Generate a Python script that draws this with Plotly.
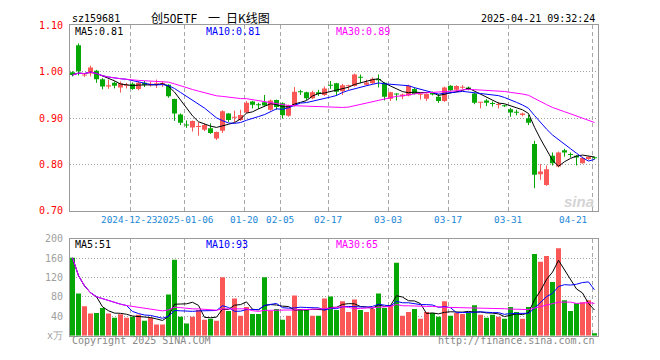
import plotly.graph_objects as go
import pandas as pd

# ---------------- data ----------------
dec_days = [9, 10, 11, 12, 13, 16, 17, 18, 19, 20, 23, 24, 25, 26, 27, 30, 31]
jan_days = [2, 3, 6, 7, 8, 9, 10, 13, 14, 15, 16, 17, 20, 21, 22, 23, 24, 27]
feb_days = [5, 6, 7, 10, 11, 12, 13, 14, 17, 18, 19, 20, 21, 24, 25, 26, 27, 28]
mar_days = [3, 4, 5, 6, 7, 10, 11, 12, 13, 14, 17, 18, 19, 20, 21, 24, 25, 26, 27, 28, 31]
apr_days = [1, 2, 3, 7, 8, 9, 10, 11, 14, 15, 16, 17, 18, 21]
dates = ([f"2024-12-{d:02d}" for d in dec_days] + [f"2025-01-{d:02d}" for d in jan_days]
         + [f"2025-02-{d:02d}" for d in feb_days] + [f"2025-03-{d:02d}" for d in mar_days]
         + [f"2025-04-{d:02d}" for d in apr_days])

opens = [0.999, 1.057, 0.992, 0.996, 1.002, 0.984, 0.968, 0.976, 0.966, 0.970,
         0.974, 0.963, 0.976, 0.971, 0.973, 0.972, 0.972, 0.941, 0.908, 0.886,
         0.880, 0.881, 0.875, 0.878, 0.856, 0.873, 0.910, 0.901, 0.896, 0.912,
         0.936, 0.930, 0.934, 0.918, 0.939, 0.932, 0.905, 0.927, 0.958, 0.956,
         0.943, 0.956, 0.950, 0.972, 0.975, 0.958, 0.969, 0.969, 0.989, 0.972,
         0.975, 0.984, 0.976, 0.942, 0.953, 0.947, 0.949, 0.963, 0.951, 0.942,
         0.955, 0.946, 0.937, 0.970, 0.961, 0.966, 0.966, 0.953, 0.933, 0.938,
         0.932, 0.929, 0.927, 0.919, 0.913, 0.907, 0.900, 0.844, 0.779, 0.756,
         0.819, 0.796, 0.831, 0.822, 0.819, 0.803, 0.812, 0.815]
highs = [1.001, 1.061, 0.997, 1.013, 1.004, 0.986, 0.983, 0.979, 0.979, 0.976,
         0.977, 0.979, 0.980, 0.979, 0.983, 0.979, 0.973, 0.942, 0.910, 0.895,
         0.895, 0.891, 0.888, 0.889, 0.871, 0.917, 0.911, 0.916, 0.918, 0.937,
         0.937, 0.933, 0.950, 0.940, 0.940, 0.934, 0.929, 0.967, 0.961, 0.957,
         0.959, 0.961, 0.968, 0.980, 0.976, 0.974, 0.972, 0.996, 0.994, 0.983,
         0.988, 0.994, 0.977, 0.957, 0.953, 0.953, 0.972, 0.966, 0.955, 0.953,
         0.957, 0.952, 0.968, 0.971, 0.971, 0.971, 0.968, 0.955, 0.935, 0.941,
         0.936, 0.935, 0.929, 0.922, 0.918, 0.912, 0.907, 0.851, 0.801, 0.798,
         0.826, 0.828, 0.834, 0.826, 0.820, 0.817, 0.818, 0.817]
lows = [0.990, 0.992, 0.989, 0.990, 0.976, 0.962, 0.963, 0.964, 0.955, 0.964,
        0.961, 0.960, 0.967, 0.968, 0.965, 0.967, 0.944, 0.894, 0.885, 0.879,
        0.871, 0.862, 0.872, 0.866, 0.853, 0.868, 0.892, 0.891, 0.894, 0.910,
        0.921, 0.920, 0.927, 0.916, 0.918, 0.899, 0.903, 0.925, 0.950, 0.939,
        0.941, 0.948, 0.948, 0.963, 0.948, 0.950, 0.961, 0.968, 0.976, 0.970,
        0.973, 0.966, 0.938, 0.937, 0.938, 0.941, 0.947, 0.951, 0.940, 0.937,
        0.949, 0.933, 0.935, 0.958, 0.958, 0.963, 0.960, 0.930, 0.921, 0.926,
        0.925, 0.921, 0.924, 0.903, 0.906, 0.904, 0.885, 0.749, 0.767, 0.754,
        0.798, 0.794, 0.817, 0.815, 0.798, 0.802, 0.810, 0.811]
closes = [0.993, 1.001, 0.994, 1.009, 0.984, 0.968, 0.971, 0.970, 0.975, 0.972,
          0.963, 0.976, 0.972, 0.974, 0.975, 0.975, 0.947, 0.910, 0.890, 0.884,
          0.894, 0.883, 0.885, 0.868, 0.870, 0.915, 0.896, 0.903, 0.907, 0.933,
          0.929, 0.928, 0.927, 0.938, 0.924, 0.906, 0.927, 0.957, 0.956, 0.943,
          0.956, 0.952, 0.964, 0.970, 0.957, 0.971, 0.971, 0.994, 0.987, 0.977,
          0.985, 0.982, 0.946, 0.956, 0.951, 0.951, 0.970, 0.952, 0.952, 0.952,
          0.951, 0.937, 0.966, 0.960, 0.969, 0.967, 0.961, 0.933, 0.935, 0.933,
          0.931, 0.930, 0.926, 0.912, 0.912, 0.910, 0.890, 0.778, 0.785, 0.790,
          0.803, 0.826, 0.826, 0.821, 0.815, 0.814, 0.817, 0.814]
volumes = [161, 87, 61, 46, 47, 57, 46, 37, 44, 37,
           39, 43, 31, 37, 23, 23, 85, 157, 39, 25,
           39, 53, 33, 35, 31, 121, 51, 77, 41, 59,
           45, 45, 121, 51, 55, 33, 41, 83, 55, 53,
           41, 41, 77, 81, 53, 71, 49, 75, 53, 49,
           55, 87, 57, 63, 151, 41, 49, 55, 35, 49,
           47, 39, 71, 41, 47, 45, 47, 63, 43, 37,
           43, 39, 35, 59, 49, 35, 59, 169, 153, 165,
           111, 181, 73, 51, 67, 69, 73, 5]

tick_dates = ["2024-12-23", "2025-01-06", "2025-01-20", "2025-02-05", "2025-02-17",
              "2025-03-03", "2025-03-17", "2025-03-31", "2025-04-21"]
tick_texts = ["2024-12-23", "2025-01-06", "01-20", "02-05", "02-17",
              "03-03", "03-17", "03-31", "04-21"]
price_ticks = [0.70, 0.80, 0.90, 1.00, 1.10]
vol_ticks = [0, 40, 80, 120, 160, 200]
vol_tick_texts = ["x万", "40", "80", "120", "160", "200"]
price_ma_labels = ["MA5:0.81", "MA10:0.81", "MA30:0.89"]
vol_ma_labels = ["MA5:51", "MA10:93", "MA30:65"]

# ---------------- styling ----------------
W, H = 660, 360
RED = "#fa5757"
GREEN = "#06a806"
MA_COLORS = ["#000000", "#0000ff", "#ff00ff"]
MONO = "DejaVu Sans Mono"
XOFF = -0.5 / 6          # candles sit slightly left inside their slot
BODY_W = 5 / 6


def px_x(p):
    return p / W


def px_y(p):
    return (H - p) / H


n = len(dates)
idx = list(range(n))
xpos = [i + XOFF for i in idx]
up = [c >= o for o, c in zip(opens, closes)]
colors = [RED if u else GREEN for u in up]

bases, heights = [], []
for o, c in zip(opens, closes):
    h = abs(c - o)
    if h < 0.0022:
        bases.append((o + c) / 2 - 0.0011)
        heights.append(0.0022)
    else:
        bases.append(min(o, c))
        heights.append(h)

fig = go.Figure()

# wicks
for col, flag in ((RED, True), (GREEN, False)):
    wx, wy = [], []
    for i in idx:
        if up[i] == flag:
            wx += [xpos[i], xpos[i], None]
            wy += [lows[i], highs[i], None]
    fig.add_trace(go.Scatter(x=wx, y=wy, mode="lines", line=dict(color=col, width=1),
                             hoverinfo="skip", showlegend=False, xaxis="x", yaxis="y"))

# bodies
fig.add_trace(go.Bar(x=xpos, y=heights, base=bases, width=BODY_W, marker_color=colors,
                     marker_line_width=0, showlegend=False, xaxis="x", yaxis="y"))

# price MAs
cs = pd.Series(closes)
for w, col in zip([5, 10, 30], MA_COLORS):
    fig.add_trace(go.Scatter(x=xpos, y=cs.rolling(w, min_periods=1).mean(), mode="lines",
                             line=dict(color=col, width=1), showlegend=False,
                             xaxis="x", yaxis="y"))

# volume bars
fig.add_trace(go.Bar(x=xpos, y=volumes, width=BODY_W, marker_color=colors,
                     marker_line_width=0, showlegend=False, xaxis="x2", yaxis="y2"))
vs = pd.Series(volumes, dtype=float)
for w, col in zip([5, 10, 30], MA_COLORS):
    fig.add_trace(go.Scatter(x=xpos, y=vs.rolling(w, min_periods=1).mean(), mode="lines",
                             line=dict(color=col, width=1), showlegend=False,
                             xaxis="x2", yaxis="y2"))

tick_idx = [dates.index(d) - 0.5 for d in tick_dates]
xdom = [px_x(70), px_x(598)]

xcommon = dict(domain=xdom, range=[-0.5, n - 0.5], tickvals=tick_idx, showticklabels=False,
               showgrid=True, gridcolor="#a8a8a8", gridwidth=1, griddash="4px,3px",
               showline=True, mirror=True, linecolor="#9a9a9a", linewidth=1,
               zeroline=False, ticks="", fixedrange=True)
ycommon = dict(showgrid=True, gridcolor="#a0a0a0", gridwidth=1, griddash="1px,2px",
               showline=True, mirror=True, linecolor="#9a9a9a", linewidth=1,
               zeroline=False, ticks="", fixedrange=True, ticklabelstandoff=4)

fig.update_layout(
    width=W, height=H,
    margin=dict(l=0, r=0, t=0, b=0, pad=0),
    paper_bgcolor="white", plot_bgcolor="white",
    barmode="overlay",
    showlegend=False,
    hovermode=False,
    xaxis=dict(anchor="y", **xcommon),
    xaxis2=dict(anchor="y2", matches="x", **xcommon),
    yaxis=dict(domain=[px_y(212), px_y(20)], range=[0.70, 1.10], tickvals=price_ticks,
               ticktext=[f"{v:.2f}" for v in price_ticks],
               tickfont=dict(family=MONO, size=10, color="#ff0000"), anchor="x", **ycommon),
    yaxis2=dict(domain=[px_y(341), px_y(241)], range=[0, 200], tickvals=vol_ticks,
                ticktext=vol_tick_texts,
                tickfont=dict(family=MONO, size=10, color="#a0a0a0"), anchor="x2", **ycommon),
)

ann = []


def txt(x, y, s, color="#000000", size=10, anchor="left", family=MONO, **kw):
    ann.append(dict(x=px_x(x), y=px_y(y), xref="paper", yref="paper", text=s,
                    showarrow=False, xanchor=anchor, yanchor="middle",
                    font=dict(family=family, size=size, color=color), **kw))


# header
txt(70, 13, "sz159681")
txt(210, 12, "创50ETF\u2002\u2009\u2009一\u2002日K线图", size=12, anchor="center",
    family="Noto Sans CJK SC")
txt(597, 13, "2025-04-21 09:32:24", anchor="right")

# MA labels
for lab, xx, col in zip(price_ma_labels, [73, 204, 334], MA_COLORS):
    txt(xx, 26.5, lab, color=col)
for lab, xx, col in zip(vol_ma_labels, [73, 204, 334], MA_COLORS):
    txt(xx, 246.5, lab, color=col)

# date labels
shifts = [-1.5, 1.5, 0, 0, 0, 0, 0, 0, 0]
for k, (tx, tt) in enumerate(zip(tick_idx, tick_texts)):
    last = k == len(tick_idx) - 1
    ann.append(dict(x=tx, y=px_y(221), xref="x", yref="paper", text=tt, showarrow=False,
                    xanchor="right" if last else "center", yanchor="middle",
                    xshift=-2 if last else shifts[k],
                    font=dict(family=MONO, size=9.4, color="#1a88d6")))

# footer
txt(70, 346, "Copyright 2025 SINA.COM", color="#888888")
txt(597, 346, "http://finance.sina.com.cn", anchor="right", color="#888888")

# watermark
txt(596, 202, "<b><i>sina</i></b>", color="#d4d4d4", size=15, anchor="right",
    family="Liberation Sans")

fig.update_layout(annotations=ann)
fig.write_html("out.html",
               config={"displayModeBar": False, "staticPlot": True},
               post_script="document.body.style.margin='0';document.body.style.padding='0';")
